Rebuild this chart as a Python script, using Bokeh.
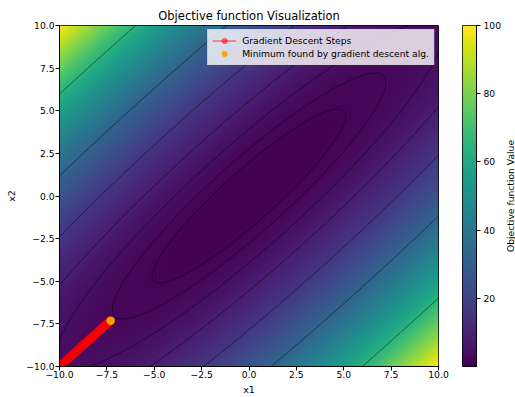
import numpy as np
from bokeh.plotting import figure
from bokeh.models import (LinearColorMapper, FixedTicker, CustomJSTickFormatter,
                          Range1d)
from bokeh.core.properties import value
from bokeh.layouts import row
from bokeh.palettes import Viridis256
from bokeh.embed import file_html
from bokeh.resources import INLINE

# ---- data ----
x_limits = [-10.0, 10.0]
y_limits = [-10.0, 10.0]
coef_diff = 0.25   # weight of (x1 - x2)^2  -> 100 at the (-10, 10) corner
coef_sum = 0.01    # weight of (x1 + x2)^2  -> 4 at the (10, 10) corner
contour_levels = [1, 2, 4, 8, 16, 32, 64]
steps_x1 = [-10.00, -9.88, -9.76, -9.65, -9.54, -9.43, -9.32, -9.22, -9.12,
            -9.02, -8.92, -8.83, -8.74, -8.65, -8.56, -8.47, -8.39, -8.31,
            -8.23, -8.15, -8.07, -7.99, -7.92, -7.85, -7.78, -7.71, -7.64,
            -7.57, -7.50, -7.44, -7.38, -7.32]
steps_x2 = [-10.00, -9.88, -9.76, -9.65, -9.54, -9.43, -9.32, -9.22, -9.12,
            -9.02, -8.92, -8.83, -8.74, -8.65, -8.56, -8.47, -8.39, -8.31,
            -8.23, -8.15, -8.07, -7.99, -7.92, -7.85, -7.78, -7.71, -7.64,
            -7.57, -7.50, -7.44, -7.38, -7.32]
min_x1 = [-7.30]
min_x2 = [-7.32]
axis_ticks = [-10, -7.5, -5, -2.5, 0, 2.5, 5, 7.5, 10]
cbar_limits = [0, 100]
cbar_ticks = [20, 40, 60, 80, 100]
cbar_label = "Objective function Value"

FONT = "DejaVu Sans"
TICK_FS = "9.2px"
H = 397

# ---- objective function grid ----
n = 300
gx = np.linspace(x_limits[0], x_limits[1], n)
gy = np.linspace(y_limits[0], y_limits[1], n)
X, Y = np.meshgrid(gx, gy)
Z = coef_diff * (X - Y) ** 2 + coef_sum * (X + Y) ** 2

mapper = LinearColorMapper(palette=Viridis256, low=cbar_limits[0], high=cbar_limits[1])

fmt = CustomJSTickFormatter(code="""
    var s = Math.abs(tick).toFixed(1);
    return (tick < 0 ? '\\u2212' : '') + s;
""")

p = figure(width=450, height=H, x_range=Range1d(*x_limits), y_range=Range1d(*y_limits),
           output_backend="svg", toolbar_location=None,
           min_border_left=59, min_border_right=12, min_border_top=25, min_border_bottom=29,
           title="Objective function Visualization")
p.title.align = "center"
p.title.text_font = FONT
p.title.text_font_size = "11.5px"
p.title.text_font_style = "normal"
p.title.text_color = "black"
p.title.standoff = 5

p.image(image=[Z], x=x_limits[0], y=y_limits[0], dw=x_limits[1] - x_limits[0],
        dh=y_limits[1] - y_limits[0], color_mapper=mapper)
p.contour(x=gx, y=gy, z=Z, levels=contour_levels, line_color="black",
          line_width=0.6, line_alpha=0.8, fill_color=None)

p.line(steps_x1, steps_x2, line_color="red", line_alpha=0.5, line_width=1.5,
       legend_label="Gradient Descent Steps")
p.scatter(steps_x1, steps_x2, size=8.5, fill_color="red", line_color="red",
          fill_alpha=0.5, line_alpha=0.5, legend_label="Gradient Descent Steps")
p.scatter(min_x1, min_x2, size=7.5, fill_color="orange", line_color="orange",
          legend_label="Minimum found by gradient descent alg.")

for ax in (p.xaxis[0], p.yaxis[0]):
    ax.ticker = FixedTicker(ticks=axis_ticks)
    ax.formatter = fmt
    ax.major_label_text_font = FONT
    ax.major_label_text_font_size = TICK_FS
    ax.major_label_text_color = "black"
    ax.axis_label_text_font = FONT
    ax.axis_label_text_font_size = "9.5px"
    ax.axis_label_text_font_style = "normal"
    ax.axis_label_text_color = "black"
    ax.major_tick_in = 0
    ax.major_tick_out = 4
    ax.minor_tick_out = 0
    ax.minor_tick_in = 0
    ax.major_label_standoff = 1
    ax.axis_label_standoff = 1
    ax.axis_line_color = "black"
p.xaxis.axis_label = "x1"
p.xaxis.major_label_standoff = 0
p.xaxis.axis_label_standoff = 3
p.yaxis.axis_label = "x2"
p.yaxis.axis_label_standoff = 6
p.grid.visible = False
p.outline_line_color = "black"
p.outline_line_alpha = 1
p.outline_line_width = 1

lg = p.legend[0]
lg.location = "top_right"
lg.margin = 4
lg.padding = 4
lg.spacing = 0
lg.glyph_height = 13
lg.glyph_width = 24
lg.label_height = 13
lg.label_text_font = FONT
lg.label_text_font_size = "9.2px"
lg.label_text_color = "black"
lg.label_standoff = 6
lg.background_fill_color = "white"
lg.background_fill_alpha = 0.8
lg.border_line_color = "#cccccc"
lg.border_line_width = 1

# ---- colorbar as its own figure ----
grad = np.linspace(cbar_limits[0], cbar_limits[1], 256).reshape(256, 1)
cb = figure(width=54, height=H, x_range=Range1d(0, 1), y_range=Range1d(*cbar_limits),
            output_backend="svg", toolbar_location=None, y_axis_location="right",
            min_border_left=12, min_border_right=0, min_border_top=25, min_border_bottom=29)
cb.image(image=[grad], x=0, y=cbar_limits[0], dw=1, dh=cbar_limits[1] - cbar_limits[0],
         color_mapper=mapper)
cb.xaxis.visible = False
cb.grid.visible = False
cb.outline_line_color = "black"
cb.outline_line_width = 1
ya = cb.yaxis[0]
ya.ticker = FixedTicker(ticks=cbar_ticks)
ya.major_label_text_font = FONT
ya.major_label_text_font_size = TICK_FS
ya.major_label_text_color = "black"
ya.major_tick_in = 0
ya.major_tick_out = 4
ya.minor_tick_out = 0
ya.minor_tick_in = 0
ya.major_label_standoff = 3
ya.axis_line_color = "black"

# ---- rotated colorbar label in its own narrow strip ----
lf = figure(width=11, height=H, x_range=Range1d(0, 1), y_range=Range1d(*cbar_limits),
            output_backend="svg", toolbar_location=None,
            min_border_left=0, min_border_right=0, min_border_top=25, min_border_bottom=29)
lf.axis.visible = False
lf.grid.visible = False
lf.outline_line_color = None
lf.text(x=[0.5], y=[(cbar_limits[0] + cbar_limits[1]) / 2], text=[cbar_label],
        angle=np.pi / 2, text_align="center", text_baseline="middle",
        text_font=value(FONT), text_font_size="9.2px", text_color="black")

layout = row(p, cb, lf)
open("out.html", "w").write(file_html(layout, INLINE))
